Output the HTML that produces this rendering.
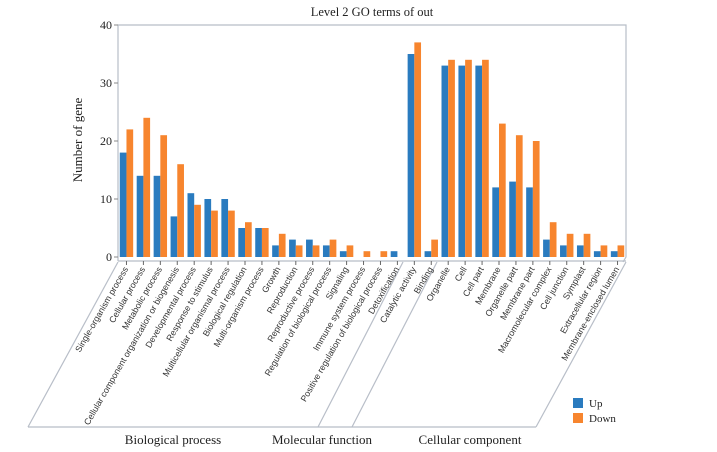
<!DOCTYPE html>
<html><head><meta charset="utf-8"><style>
html,body{margin:0;padding:0;background:#fff;}
svg{display:block;font-family:"Liberation Serif",serif;}
.cat{font-family:"Liberation Sans",sans-serif;font-size:8.8px;fill:#333;}
</style></head><body>
<svg id="chart" width="717" height="452" viewBox="0 0 717 452" xmlns="http://www.w3.org/2000/svg">
<text x="372" y="16" text-anchor="middle" font-size="12.5" fill="#222">Level 2 GO terms of out</text>
<text transform="translate(82,140) rotate(-90)" text-anchor="middle" font-size="13" fill="#222">Number of gene</text>
<g id="floor" stroke="#b8bec8" fill="none" stroke-width="1.2">
<line x1="28" y1="427" x2="536" y2="427"/>
<line x1="28" y1="427" x2="118" y2="262"/>
<line x1="318" y1="427" x2="403" y2="262"/>
<line x1="352" y1="427" x2="437" y2="262"/>
<line x1="536" y1="427" x2="626" y2="262"/>
</g>
<text x="173" y="444" text-anchor="middle" font-size="13" fill="#222">Biological process</text>
<text x="322" y="444" text-anchor="middle" font-size="13" fill="#222">Molecular function</text>
<text x="470" y="444" text-anchor="middle" font-size="13" fill="#222">Cellular component</text>
<g>
<rect x="573" y="398" width="10" height="10" fill="#2a7bbf"/>
<text x="589" y="407" font-size="11" fill="#222">Up</text>
<rect x="573" y="413" width="10" height="10" fill="#f7852e"/>
<text x="589" y="422" font-size="11" fill="#222">Down</text>
</g>
<g id="plot"></g>
</svg>
<script>
const categories = ["Single-organism process","Cellular process","Metabolic process","Cellular component organization or biogenesis","Developmental process","Response to stimulus","Multicellular organismal process","Biological regulation","Multi-organism process","Growth","Reproduction","Reproductive process","Regulation of biological process","Signaling","Immune system process","Positive regulation of biological process","Detoxification","Catalytic activity","Binding","Organelle","Cell","Cell part","Membrane","Organelle part","Membrane part","Macromolecular complex","Cell junction","Symplast","Extracellular region","Membrane-enclosed lumen"];
const upValues = [18,14,14,7,11,10,10,5,5,2,3,3,2,1,0,0,1,35,1,33,33,33,12,13,12,3,2,2,1,1];
const downValues = [22,24,21,16,9,8,8,6,5,4,2,2,3,2,1,1,0,37,3,34,34,34,23,21,20,6,4,4,2,2];
const yTicks = [0,10,20,30,40];

const NS = "http://www.w3.org/2000/svg";
const g = document.getElementById('plot');
const X0 = 118, X1 = 626, Y0 = 257, Y1 = 25, YMAX = 40;
const band = (X1 - X0) / categories.length;
const barW = 6.7;
function yScale(v){ return Y0 - (v / YMAX) * (Y0 - Y1); }
function xBand(i){ return X0 + i * band; }
function mk(tag, attrs){ const e = document.createElementNS(NS, tag); for (const k in attrs) e.setAttribute(k, attrs[k]); g.appendChild(e); return e; }

let f = mk('path', {d:`M${X0},${Y0+4} L${X0},${Y1} L${X1},${Y1} L${X1},${Y0} L${X1-3},${Y0+5}`, fill:'none', stroke:'#b8bec8', 'stroke-width':1.2});


let xa = mk('line', {x1:X0, y1:Y0+4, x2:X1, y2:Y0+4, stroke:'#b8bec8', 'stroke-width':1.2});



yTicks.forEach(t => {
  const y = yScale(t);
  const tk = mk('line', {x1:X0-4, y1:y, x2:X0, y2:y, stroke:'#888'});
  
  
  const tx = mk('text', {x:X0-6, y:y+4, 'text-anchor':'end', 'font-size':12, fill:'#222'});
  tx.textContent = t;
  
  
});

categories.forEach((c, i) => {
  const bx = xBand(i) + (band - 2 * barW) / 2;
  const cx = xBand(i) + band / 2;
  const yu = yScale(upValues[i]);
  const yd = yScale(downValues[i]);
  const ru = mk('rect', {x:bx, y:yu, width:barW, height:Y0 - yu, fill:'#2a7bbf'});
  
  
  const rd = mk('rect', {x:bx + barW, y:yd, width:barW, height:Y0 - yd, fill:'#f7852e'});
  
  
  const tk = mk('line', {x1:cx, y1:Y0+4, x2:cx, y2:Y0+8, stroke:'#666'});
  
  
  const lb = mk('text', {class:'cat', 'text-anchor':'end', transform:`translate(${cx+2},${Y0+12}) rotate(-60)`});
  lb.textContent = c;
  
  
});
</script>
</body></html>
